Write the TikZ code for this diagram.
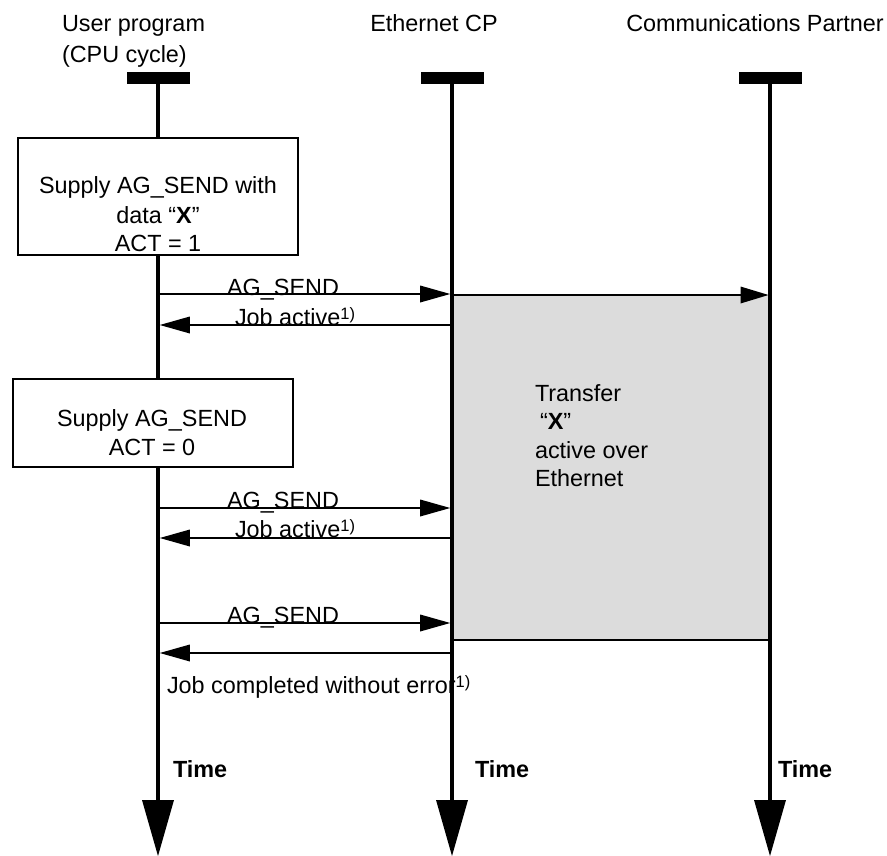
\documentclass[tikz,border=0pt]{standalone}
\usepackage{fontspec}
\setmainfont{Liberation Sans}
\usetikzlibrary{arrows.meta}
\definecolor{boxgray}{HTML}{DCDCDC}
\newcommand{\stk}[2][c]{\begin{tabular}[t]{@{}#1@{}}#2\end{tabular}}
\newcommand{\fnmark}{\raisebox{6pt}{\fontsize{16.5}{16.5}\selectfont 1)}}
\begin{document}
\begin{tikzpicture}[x=1pt,y=-1pt,
  txt/.style={font=\fontsize{23.4}{29}\selectfont, inner sep=0pt, outer sep=0pt},
  timelbl/.style={font=\fontsize{23.4}{29}\selectfont\bfseries, inner sep=0pt, outer sep=0pt, anchor=base west},
  lifeline/.style={line width=3.5pt, -{Triangle[length=56pt,width=32pt,line width=0pt]}},
  capbar/.style={fill=black, minimum width=63pt, minimum height=12pt, inner sep=0pt, outer sep=0pt},
  stepbox/.style={draw, fill=white, line width=1.2pt, inner sep=0pt},
  msg/.style={line width=1.2pt, -{Triangle[length=30pt,width=17pt,line width=0pt]}},
  xfer/.style={line width=2pt, -{Triangle[length=28pt,width=17pt,line width=0pt]}},
]
\useasboundingbox (0,0) rectangle (887,856);

% gray transfer area
\fill[boxgray] (452,295) rectangle (770,640);

% headers
\node[txt, font=\fontsize{23.4}{31}\selectfont, anchor=base west] (h1) at (62,32) {\stk[l]{User program\\(CPU cycle)}};
\node[txt, anchor=base] (h2) at (434,32) {Ethernet CP};
\node[txt, anchor=base] (h3) at (755,32) {Communications Partner};

% caps
\node[capbar] (cap1) at (158,78) {};
\node[capbar] (cap2) at (452,78) {};
\node[capbar] (cap3) at (770,78) {};

\coordinate (end1) at (cap1.south |- 0,856);
\coordinate (end2) at (cap2.south |- 0,856);
\coordinate (end3) at (cap3.south |- 0,856);

% lifelines
\draw[lifeline] (cap1.south) -- (end1);
\draw[lifeline] (cap2.south) -- (end2);
\draw[lifeline] (cap3.south) -- (end3);

% boxes
\node[stepbox, minimum width=280pt, minimum height=117pt] (b1) at (158,196.5) {};
\node[txt, anchor=base] (b1t) at (158,194) {\stk{Supply AG\_SEND with\\data “\textbf{X}”\\ACT = 1}};
\node[stepbox, minimum width=280pt, minimum height=88pt] (b2) at (153,423) {};
\node[txt, anchor=base] (b2t) at (152,426) {\stk{Supply AG\_SEND\\ACT = 0}};

% transfer lines
\coordinate (g1) at (452,295);
\coordinate (g2) at (768.5,295);
\coordinate (g3) at (452,640);
\coordinate (g4) at (770,640);
\draw[xfer] (g1) -- (g2);
\draw[line width=2pt] (g3) -- (g4);

% messages
\coordinate (s1a) at (158,294);   \coordinate (s1b) at (450.2,294);
\coordinate (r1a) at (452,325);   \coordinate (r1b) at (159.8,325);
\coordinate (s2a) at (158,508);   \coordinate (s2b) at (450.2,508);
\coordinate (r2a) at (452,538);   \coordinate (r2b) at (159.8,538);
\coordinate (s3a) at (158,623);   \coordinate (s3b) at (450.2,623);
\coordinate (r3a) at (452,653);   \coordinate (r3b) at (159.8,653);
\draw[msg] (s1a) -- (s1b);
\draw[msg] (r1a) -- (r1b);
\draw[msg] (s2a) -- (s2b);
\draw[msg] (r2a) -- (r2b);
\draw[msg] (s3a) -- (s3b);
\draw[msg] (r3a) -- (r3b);

% message labels
\node[txt, anchor=base] (l1) at (283,295) {AG\_SEND};
\node[txt, anchor=base west] (l2) at (235,325) {Job active\fnmark};
\node[txt, anchor=base] (l3) at (283,508) {AG\_SEND};
\node[txt, anchor=base west] (l4) at (235,537) {Job active\fnmark};
\node[txt, anchor=base] (l5) at (283,623) {AG\_SEND};
\node[txt, anchor=base west] (l6) at (167,693) {Job completed without error\fnmark};

% transfer text
\node[txt, font=\fontsize{23.4}{28.6}\selectfont, anchor=base west] (tx) at (535,401) {\stk[l]{Transfer\\\hspace*{5pt}“\textbf{X}”\\active over\\Ethernet}};

% time labels
\node[timelbl] (t1) at (173,777) {Time};
\node[timelbl] (t2) at (475,777) {Time};
\node[timelbl] (t3) at (778,777) {Time};
\end{tikzpicture}
\end{document}
